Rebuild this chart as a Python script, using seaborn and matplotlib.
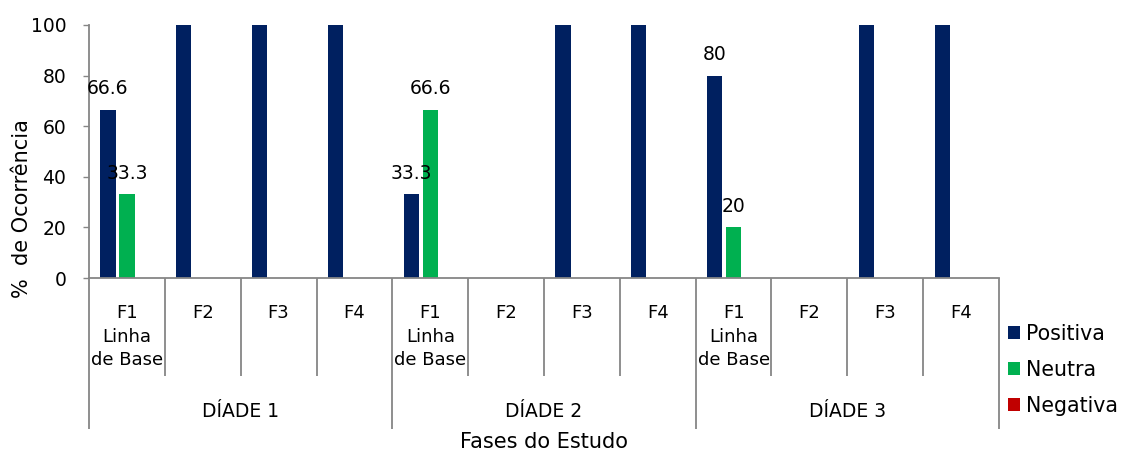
import matplotlib
matplotlib.use("Agg")
import matplotlib.pyplot as plt
import matplotlib.transforms as mtransforms
import seaborn as sns
import pandas as pd

# ---- data ----
dyads = ["DÍADE 1", "DÍADE 2", "DÍADE 3"]
phases = ["F1", "F2", "F3", "F4"]
phase_labels = [["F1", "Linha", "de Base"], ["F2"], ["F3"], ["F4"]]
series = ["Positiva", "Neutra", "Negativa"]
colors = ["#002060", "#00B050", "#C00000"]

positiva = [66.6, 100, 100, 100, 33.3, 0, 100, 100, 80, 0, 100, 100]
neutra = [33.3, 0, 0, 0, 66.6, 0, 0, 0, 20, 0, 0, 0]
negativa = [0, 0, 0, 0, 0, 0, 0, 0, 0, 0, 0, 0]
labelled_phase = "F1"

yticks = [0, 20, 40, 60, 80, 100]
ylabel = "%  de Ocorrência"
xlabel = "Fases do Estudo"

# ---- table ----
cats = [f"{d}|{p}" for d in dyads for p in phases]
rows = []
for s, vals in zip(series, [positiva, neutra, negativa]):
    for c, v in zip(cats, vals):
        rows.append({"cat": c, "serie": s, "valor": v})
df = pd.DataFrame(rows)

sns.set_theme(style="white")
plt.rcParams["font.family"] = ["DejaVu Sans"]
plt.rcParams["text.color"] = "black"
plt.rcParams["axes.labelcolor"] = "black"
plt.rcParams["xtick.color"] = "black"
plt.rcParams["ytick.color"] = "black"

W, H = 1123, 450
fig = plt.figure(figsize=(W / 100, H / 100), dpi=100)
L, R, T, B = 89, 999, 25, 278
ax = fig.add_axes([L / W, 1 - B / H, (R - L) / W, (B - T) / H])

sns.barplot(data=df, x="cat", y="valor", hue="serie", order=cats,
            hue_order=series, palette=colors, saturation=1, width=0.75,
            gap=0.2, errorbar=None, linewidth=0, ax=ax)

handles, labels = ax.get_legend_handles_labels()
if ax.get_legend() is not None:
    ax.get_legend().remove()

# data labels only on F1 bars
for cont, vals in zip(ax.containers, [positiva, neutra, negativa]):
    labs = []
    for c, v in zip(cats, vals):
        if c.endswith("|" + labelled_phase) and v > 0:
            labs.append(f"{v:g}")
        else:
            labs.append("")
    ax.bar_label(cont, labels=labs, padding=8, fontsize=13.5, color="black")

ax.set_xlim(-0.5, len(cats) - 0.5)
ax.set_ylim(0, 100)
ax.set_yticks(yticks)
ax.set_yticklabels([str(t) for t in yticks], fontsize=13.5, color="black")
ax.tick_params(axis="y", length=4.3, width=1, color="#868686", pad=12,
               direction="out", left=True, labelcolor="black")
ax.set_xticks([])
ax.set_xlabel("")
ax.set_ylabel("")
for sp in ["top", "right"]:
    ax.spines[sp].set_visible(False)
for sp in ["left", "bottom"]:
    ax.spines[sp].set_color("#868686")
    ax.spines[sp].set_linewidth(1.3)

axh = B - T
trans = mtransforms.blended_transform_factory(ax.transData, ax.transAxes)
for i in range(len(cats) + 1):
    depth = 151 if i % 4 == 0 else 98
    ax.plot([i - 0.5, i - 0.5], [0, -depth / axh], transform=trans,
            color="#868686", lw=1.3, clip_on=False, solid_capstyle="butt")

# phase labels
line_base = [318, 341.5, 365]
for di, d in enumerate(dyads):
    for pi, p in enumerate(phases):
        x = di * 4 + pi
        for li, txt in enumerate(phase_labels[pi]):
            ax.annotate(txt, xy=(x, 0), xycoords=trans,
                        xytext=(0, -(line_base[li] - B) * 0.72),
                        textcoords="offset points", ha="center",
                        va="baseline", fontsize=13, color="black")
    ax.annotate(d, xy=(di * 4 + 1.5, 0), xycoords=trans,
                xytext=(0, -(417 - B) * 0.72), textcoords="offset points",
                ha="center", va="baseline", fontsize=13.5, color="black")

fig.text((L + R) / 2 / W, 1 - 448 / H, xlabel, ha="center", va="baseline",
         fontsize=15, color="black")
fig.text(22 / W, 1 - 209 / H, ylabel, rotation=90, ha="center", va="center",
         fontsize=15, color="black")

leg = fig.legend(handles, labels, loc="center left",
                 bbox_to_anchor=(1008 / W, 1 - 370 / H), frameon=False,
                 fontsize=14.8, handlelength=0.6, handleheight=0.6,
                 handletextpad=0.3, labelspacing=0.78, borderpad=0,
                 borderaxespad=0)
for t in leg.get_texts():
    t.set_color("black")

fig.savefig("out.png", dpi=100)
